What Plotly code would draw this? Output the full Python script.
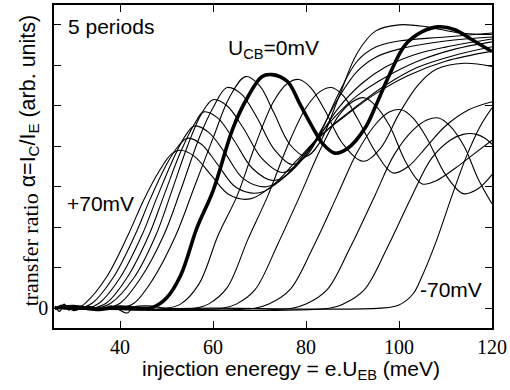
import plotly.graph_objects as go

# ---------------- data ----------------
# injection energy (meV) / transfer ratio (arb. units, 1 unit = 1 tick)
p70_x = [26, 27, 28, 29, 30, 31, 32.5, 37, 41.7, 45, 48.5, 51, 53, 56, 59.5, 63.5, 68, 73, 78, 83, 89, 95, 102, 110, 120]
p70_y = [0.05, -0.08, 0.1, -0.05, 0.06, 0.02, 0.12, 0.75, 1.8, 2.65, 3.4, 3.8, 3.9, 3.75, 3.3, 2.8, 2.7, 3.05, 3.65, 4.25, 4.8, 5.3, 5.75, 6.1, 6.35]

p60_x = [26, 31.5, 34, 38.5, 43.2, 46.5, 50, 52.5, 54.5, 57.5, 61, 65, 70, 75, 80, 85, 91, 97, 104, 112, 120]
p60_y = [0, 0, 0.12, 0.75, 1.8, 2.7, 3.55, 4.0, 4.2, 4.05, 3.55, 2.98, 2.85, 3.2, 3.85, 4.45, 5.0, 5.5, 5.95, 6.25, 6.46]

p50_x = [26, 33, 35.5, 40, 44.7, 48, 51.5, 54, 56, 59, 62.5, 66.5, 71.5, 76, 81, 86, 91, 97, 104, 112, 120]
p50_y = [0, 0, 0.12, 0.75, 1.8, 2.75, 3.7, 4.25, 4.5, 4.35, 3.85, 3.2, 3.0, 3.3, 4.0, 4.7, 5.25, 5.7, 6.1, 6.4, 6.58]

p40_x = [26, 34, 37, 41.5, 46.2, 49.5, 53, 56, 58, 61, 64.5, 68.5, 73, 77, 82, 87, 92, 97, 103, 110, 120]
p40_y = [0, 0, 0.12, 0.75, 1.8, 2.8, 3.85, 4.55, 4.85, 4.7, 4.15, 3.45, 3.15, 3.4, 4.1, 4.95, 5.55, 5.95, 6.25, 6.45, 6.65]

p30_x = [26, 35, 38, 43, 47.7, 51, 54.5, 57.5, 60, 63, 66.5, 70.5, 75, 79, 83, 87, 91, 95, 100, 110, 120]
p30_y = [0, 0, 0.12, 0.75, 1.8, 2.85, 4.0, 4.8, 5.15, 5.0, 4.45, 3.7, 3.35, 3.65, 4.35, 5.2, 5.85, 6.2, 6.4, 6.6, 6.7]

p20_x = [26, 37, 40, 44.5, 49.4, 53, 57, 60, 63, 66, 69.5, 73, 77, 80, 83, 87, 91, 95, 100, 110, 120]
p20_y = [0, 0, 0.12, 0.75, 1.8, 2.9, 4.2, 4.95, 5.45, 5.3, 4.7, 3.95, 3.55, 3.75, 4.3, 5.3, 6.1, 6.45, 6.6, 6.7, 6.8]

p10_x = [26, 40, 43, 47, 52, 56, 60, 63.5, 67, 70, 73, 76.5, 80, 83, 87, 91, 95, 100, 106, 113, 120]
p10_y = [0, 0, 0.12, 0.7, 1.8, 3.0, 4.2, 5.2, 5.72, 5.5, 4.85, 4.05, 3.75, 4.1, 5.2, 6.3, 6.85, 7.0, 6.95, 6.8, 6.76]

u0_x = [26, 30, 35, 40, 44, 47, 50, 53, 56.6, 60, 64.3, 67.3, 70.5, 72.7, 76, 78.7, 81.5, 83.7, 86.2, 89, 92.7, 95, 97.6, 101.3, 105, 108.4, 112, 115.7, 120]
u0_y = [0, 0.04, -0.03, 0.03, 0, 0.02, 0.25, 0.8, 2.0, 2.9, 4.45, 5.18, 5.72, 5.77, 5.6, 5.04, 4.45, 4.05, 3.83, 3.95, 4.45, 5.0, 5.68, 6.5, 6.83, 6.95, 6.88, 6.63, 6.34]

m10_x = [26, 50, 53, 57, 61.1, 65.2, 69, 73, 76, 78.5, 81, 84, 88, 92.3, 96, 100, 104, 108, 114, 120]
m10_y = [0, 0, 0.1, 0.6, 1.8, 2.78, 4.0, 5.1, 5.55, 5.65, 5.45, 4.9, 4.05, 3.63, 3.95, 4.8, 5.5, 5.9, 6.05, 5.97]

m20_x = [26, 56, 59, 63, 67.5, 71.8, 76, 80, 83, 85.5, 88, 91, 95, 98.7, 102, 106, 110, 115, 120]
m20_y = [0, 0, 0.1, 0.5, 1.7, 2.78, 4.0, 4.95, 5.35, 5.45, 5.25, 4.7, 3.85, 3.34, 3.5, 4.0, 4.5, 4.9, 5.1]

m30_x = [26, 62, 65, 69, 74, 78.7, 83, 87, 90, 92.5, 95, 98, 101.5, 105, 108, 112, 116, 120]
m30_y = [0, 0, 0.1, 0.45, 1.6, 2.78, 3.9, 4.75, 5.1, 5.2, 5.0, 4.5, 3.6, 3.07, 3.15, 3.45, 3.8, 4.15]

m40_x = [26, 69, 72, 76.5, 81.5, 86.7, 91, 95, 98, 100.5, 103, 106, 110, 113.8, 117, 120]
m40_y = [0, 0, 0.1, 0.45, 1.5, 2.78, 3.85, 4.55, 4.85, 4.9, 4.7, 4.2, 3.3, 2.83, 2.95, 3.3]

m50_x = [26, 77, 80, 84.5, 89.5, 94.8, 99, 103, 106, 108.5, 111, 114, 117, 120]
m50_y = [0, 0, 0.1, 0.45, 1.5, 2.78, 3.8, 4.4, 4.65, 4.7, 4.5, 4.0, 3.2, 2.58]

m60_x = [26, 85, 88, 92.5, 97.5, 102.8, 107, 111, 114, 116.5, 118.5, 120]
m60_y = [0, 0, 0.1, 0.45, 1.5, 2.78, 3.7, 4.15, 4.3, 4.3, 4.2, 4.05]

m70_x = [26, 28, 30, 33, 36, 38, 41.5, 43, 46, 50, 60, 96, 100, 103, 105, 108, 111.4, 114.5, 117.5, 120]
m70_y = [0, 0.08, -0.06, 0.05, -0.04, 0.06, -0.12, 0.03, 0.06, 0, 0, 0, 0.08, 0.35, 0.8, 1.65, 2.78, 3.75, 4.5, 4.95]

x_ticks = [40, 60, 80, 100, 120]
y_ticks = [0, 1, 2, 3, 4, 5, 6, 7]
y_ticktext = ["0", "", "", "", "", "", "", ""]

thin_curves = [
    (p70_x, p70_y), (p60_x, p60_y), (p50_x, p50_y), (p40_x, p40_y),
    (p30_x, p30_y), (p20_x, p20_y), (p10_x, p10_y),
    (m10_x, m10_y), (m20_x, m20_y), (m30_x, m30_y), (m40_x, m40_y),
    (m50_x, m50_y), (m60_x, m60_y), (m70_x, m70_y),
]

fig = go.Figure()
for cx, cy in thin_curves:
    fig.add_trace(go.Scatter(x=cx, y=cy, mode="lines",
                             line=dict(color="black", width=1.1, shape="spline", smoothing=1.0),
                             hoverinfo="skip", showlegend=False))
fig.add_trace(go.Scatter(x=u0_x, y=u0_y, mode="lines",
                         line=dict(color="black", width=3.6, shape="spline", smoothing=1.0),
                         hoverinfo="skip", showlegend=False))

L, R, T, B = 54, 18, 3, 62
W, H = 510, 390
pw, ph = W - L - R, H - T - B


def px(xp):
    return (xp - L) / pw


def py(yp):
    return (H - B - yp) / ph


sans = "Liberation Sans"
serif = "Liberation Serif"

ann = [
    dict(text="5 periods", x=px(66), y=py(25), xanchor="left", yanchor="middle",
         font=dict(family=sans, size=21, color="black")),
    dict(text="U<sub>CB</sub>=0mV", x=px(226), y=py(47), xanchor="left", yanchor="middle",
         font=dict(family=sans, size=21, color="black")),
    dict(text="+70mV", x=px(65), y=py(203), xanchor="left", yanchor="middle",
         font=dict(family=sans, size=21, color="black")),
    dict(text="-70mV", x=px(418), y=py(289), xanchor="left", yanchor="middle",
         font=dict(family=sans, size=21, color="black")),
    dict(text="injection eneregy = e.U<sub>EB</sub> (meV)", x=px(291), y=py(370),
         xanchor="center", yanchor="middle",
         font=dict(family=sans, size=21, color="black")),
    dict(text="transfer ratio", x=px(30), y=py(191), xanchor="center", yanchor="top",
         textangle=-90, font=dict(family=serif, size=22, color="black")),
    dict(text="α=I<sub>C</sub>/I<sub>E</sub> (arb. units)", x=px(29), y=py(189),
         xanchor="center", yanchor="bottom", textangle=-90,
         font=dict(family=sans, size=21.5, color="black")),
]
for a in ann:
    a.update(xref="paper", yref="paper", showarrow=False)

axis_common = dict(showline=True, linecolor="black", linewidth=1.5, mirror="ticks",
                   ticks="inside", ticklen=7, tickwidth=1.3, tickcolor="black",
                   showgrid=False, zeroline=False,
                   tickfont=dict(family=serif, size=20, color="black"))

fig.update_layout(
    width=W, height=H,
    margin=dict(l=L, r=R, t=T, b=B),
    paper_bgcolor="white", plot_bgcolor="white",
    xaxis=dict(range=[25.8, 120], tickvals=x_ticks, **axis_common),
    yaxis=dict(range=[-0.49, 7.49], tickvals=y_ticks, ticktext=y_ticktext, **axis_common),
    annotations=ann,
    showlegend=False,
)

fig.write_html("out.html", config={"displayModeBar": False},
               post_script="document.body.style.margin='0';document.body.style.padding='0';")
